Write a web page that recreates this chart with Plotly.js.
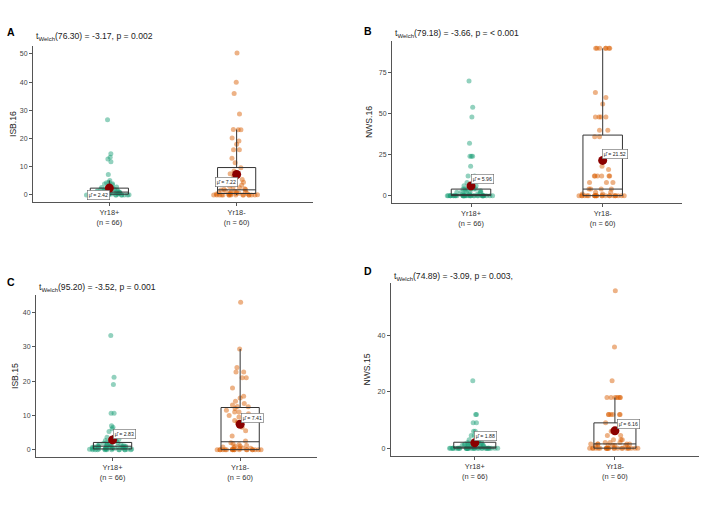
<!DOCTYPE html>
<html><head><meta charset="utf-8">
<script src="https://cdn.plot.ly/plotly-3.0.1.min.js"></script>
<style>html,body{margin:0;padding:0;background:#fff}#chart{width:708px;height:505px}</style>
</head><body><div id="chart"></div>
<script>
// ---------- data ----------
const groups = ['Yr18+', 'Yr18-'];
const groupN = [66, 60];

const isb16Plus = [26.7,14.6,13.4,12.7,11.8,7.2,5.1,4.3,3.9,4.5,4.0,3.6,2.8,2.6,2.4,2.3,2.1,2.0,2.0,1.8,1.7,1.6,1.5,1.4,1.3,1.2,1.1,1.0,1.0,1.0,0.9,0.9,0.8,0.8,0.7,0.7,0.6,0.6,0.5,0.5,0.5,0.4,0.4,0.3,0.3,0.3,0.2,0.2,0.2,0.1,0.1,0.1,0,0,0,0,0,0,0,0,0,0,0,0,0,0];
const isb16Minus = [50.3,40,36,28.7,23.2,23.1,23.1,20.2,19.1,18,16,16,13,11.4,9.6,8.5,7.5,6.5,6,5.5,5,4.5,4,3.5,3,2.8,2.5,2.2,2,1.9,1.7,1.5,1.3,1.2,1,1,0.8,0.7,0.6,0.5,0.5,0.4,0.3,0.2,0.1,0,0,0,0,0,0,0,0,0,0,0,0,0,0,0];
const nws16Plus = [70,54,48,32,24,24,24,18,12,12,8,6,6,6,4,4,4,4,4,4,3,3,2,2,2,2,2,2,1,1,1,0,0,0,0,0,0,0,0,0,0,0,0,0,0,0,0,0,0,0,0,0,0,0,0,0,0,0,0,0,0,0,0,0,0,0];
const nws16Minus = [90,90,90,90,90,90,90,63,60,56,48,48,48,48,40,40,36,36,18,16,12,12,12,12,12,12,8,8,8,4,4,4,4,2,2,1,1,0,0,0,0,0,0,0,0,0,0,0,0,0,0,0,0,0,0,0,0,0,0,0];
const isb15Plus = [33.3,21.1,19,10.6,10.6,7,6.5,6.1,5.3,4.2,3.6,3.2,3,2.7,2.5,2.3,2.1,2,1.9,1.8,1.6,1.5,1.4,1.3,1.2,1.1,1.1,1,1,1,1,0.9,0.9,0.8,0.8,0.8,0.7,0.7,0.6,0.6,0.5,0.5,0.5,0.4,0.4,0.4,0.3,0.3,0.3,0.2,0.2,0.2,0.1,0.1,0.1,0,0,0,0,0,0,0,0,0,0,0];
const isb15Minus = [43,29.4,24,22.7,22.7,21,21,18,15.6,15.1,14.1,13.5,13,12.6,12.5,12,11.5,11,11,10.5,10,10,9.5,9,8.5,8,6.5,5.5,4,2.5,2,1.8,1.5,1.2,1,1,0.8,0.6,0.5,0.4,0.3,0.2,0,0,0,0,0,0,0,0,0,0,0,0,0,0,0,0,0,0];
const nws15Plus = [24,12,12,9,9,6,6,4.5,4.5,3,3,2,2,2,2,2,1.5,1.5,1.5,1,1,1,1,1,1,1,1,0.5,0.5,0.5,0,0,0,0,0,0,0,0,0,0,0,0,0,0,0,0,0,0,0,0,0,0,0,0,0,0,0,0,0,0,0,0,0,0,0,0];
const nws15Minus = [56,36,24,18,18,18,18,18,18,18,12,12,12,12,12,12,9,6,6,4.5,4.5,3,3,3,2,2,2,1.5,1.5,1.5,1.5,1.5,1,1,1,1,1,0,0,0,0,0,0,0,0,0,0,0,0,0,0,0,0,0,0,0,0,0,0,0];

// means as printed on the chart
const isb16Means = [2.42, 7.22];
const nws16Means = [5.96, 21.52];
const isb15Means = [2.83, 7.41];
const nws15Means = [1.88, 6.16];

// box statistics [Yr18+, Yr18-]
const isb16Q1 = [0.25, 0.5], isb16Med = [1.0, 1.8], isb16Q3 = [2.4, 9.7], isb16Lo = [0, 0], isb16Hi = [5.1, 23.2];
const nws16Q1 = [0, 0], nws16Med = [0, 4], nws16Q3 = [4, 37], nws16Lo = [0, 0], nws16Hi = [8, 90];
const isb15Q1 = [0.2, 0], isb15Med = [1.0, 2.3], isb15Q3 = [2.1, 12.3], isb15Lo = [0, 0], isb15Hi = [4.2, 29.4];
const nws15Q1 = [0, 0], nws15Med = [0.2, 1.5], nws15Q3 = [2.1, 9], nws15Lo = [0, 0], nws15Hi = [4.5, 18];

const panelLetters = ['A', 'B', 'C', 'D'];
const yTitles = ['ISB.16', 'NWS.16', 'ISB.15', 'NWS.15'];
const subtitles = [
  't<sub>Welch</sub>(76.30) = -3.17, p = 0.002',
  't<sub>Welch</sub>(79.18) = -3.66, p = < 0.001',
  't<sub>Welch</sub>(95.20) = -3.52, p = 0.001',
  't<sub>Welch</sub>(74.89) = -3.09, p = 0.003,'
];
const yDticks = [10, 25, 10, 20];

// ---------- build ----------
const panels = [
  {plus: isb16Plus, minus: isb16Minus, means: isb16Means, q1: isb16Q1, med: isb16Med, q3: isb16Q3, lo: isb16Lo, hi: isb16Hi},
  {plus: nws16Plus, minus: nws16Minus, means: nws16Means, q1: nws16Q1, med: nws16Med, q3: nws16Q3, lo: nws16Lo, hi: nws16Hi},
  {plus: isb15Plus, minus: isb15Minus, means: isb15Means, q1: isb15Q1, med: isb15Med, q3: isb15Q3, lo: isb15Lo, hi: isb15Hi},
  {plus: nws15Plus, minus: nws15Minus, means: nws15Means, q1: nws15Q1, med: nws15Med, q3: nws15Q3, lo: nws15Lo, hi: nws15Hi}
];

const W = 708, H = 505;
const geom = [
  {x0: 33, x1: 313, y0: 46, y1: 202, lx: 11, ly: 32, sy: 37, tx: 13, mlab: [[0.913, 0.0], [1.917, 4.75]]},
  {x0: 392, x1: 681.7, y0: 41, y1: 203, lx: 368, ly: 31, sy: 33, tx: 369, mlab: [[1.09, 10.0], [2.09, 25.5]]},
  {x0: 36, x1: 316.7, y0: 295, y1: 457, lx: 11, ly: 282, sy: 287, tx: 15, mlab: [[1.09, 4.65], [2.10, 9.3]]},
  {x0: 390.7, x1: 699, y0: 283, y1: 456, lx: 368, ly: 271, sy: 276, tx: 366, mlab: [[1.076, 4.4], [2.10, 8.7]]}
];

const FONT = 'Liberation Sans, Arial, Helvetica, sans-serif';
const tickText = groups.map((g, i) => g + '<br>(n = ' + groupN[i] + ')');
const ptColors = ['rgba(27,158,119,0.48)', 'rgba(217,95,2,0.48)'];

const traces = [];
const layout = {
  width: W, height: H,
  margin: {l: 0, r: 0, t: 0, b: 0, pad: 0},
  paper_bgcolor: '#fff', plot_bgcolor: 'rgba(0,0,0,0)',
  showlegend: false, boxmode: 'overlay',
  font: {family: FONT, color: '#222'},
  annotations: []
};

panels.forEach((p, i) => {
  const s = i === 0 ? '' : String(i + 1);
  const xa = 'x' + s, ya = 'y' + s;
  const g = geom[i];
  [p.plus, p.minus].forEach((vals, k) => {
    traces.push({
      type: 'box', y: vals, x0: k + 1, xaxis: xa, yaxis: ya,
      boxpoints: 'all', jitter: 1, pointpos: 0, width: 0.37,
      line: {width: 0, color: 'rgba(0,0,0,0)'}, fillcolor: 'rgba(0,0,0,0)',
      marker: {color: ptColors[k], size: 5, line: {width: 0}},
      hoverinfo: 'y'
    });
  });
  traces.push({
    type: 'box', x: [1, 2], q1: p.q1, median: p.med, q3: p.q3,
    lowerfence: p.lo, upperfence: p.hi, xaxis: xa, yaxis: ya,
    width: 0.3, whiskerwidth: 0, boxpoints: false,
    fillcolor: 'rgba(0,0,0,0)', line: {color: '#333', width: 1}
  });
  traces.push({
    type: 'scatter', mode: 'markers', x: [1, 2], y: p.means, xaxis: xa, yaxis: ya,
    marker: {color: '#8b0000', size: 9}
  });

  const all = p.plus.concat(p.minus);
  const mn = Math.min(...all), mx = Math.max(...all), span = mx - mn;

  layout['xaxis' + s] = {
    domain: [g.x0 / W, g.x1 / W], anchor: ya, range: [0.4, 2.6],
    tickmode: 'array', tickvals: [1, 2], ticktext: tickText,
    showline: true, linecolor: '#555', linewidth: 1,
    ticks: 'outside', ticklen: 3, tickcolor: '#555', tickwidth: 1,
    tickfont: {size: 7.4, color: '#333', family: FONT},
    showgrid: false, zeroline: false, fixedrange: true
  };
  layout['yaxis' + s] = {
    domain: [1 - g.y1 / H, 1 - g.y0 / H], anchor: xa,
    range: [mn - 0.05 * span, mx + 0.05 * span], dtick: yDticks[i], tick0: 0,
    showline: true, linecolor: '#555', linewidth: 1,
    ticks: 'outside', ticklen: 3, tickcolor: '#555', tickwidth: 1,
    tickfont: {size: 7, color: '#444', family: FONT},
    showgrid: false, zeroline: false, fixedrange: true
  };

  layout.annotations.push({
    xref: 'paper', yref: 'paper', x: g.lx / W, y: 1 - g.ly / H,
    xanchor: 'center', yanchor: 'middle', showarrow: false,
    text: '<b>' + panelLetters[i] + '</b>', font: {size: 10.5, color: '#000', family: FONT}
  });
  layout.annotations.push({
    xref: 'paper', yref: 'paper', x: (g.x0 + 1) / W, y: 1 - g.sy / H,
    xanchor: 'left', yanchor: 'middle', showarrow: false,
    text: subtitles[i], font: {size: 8.6, color: '#222', family: FONT}
  });
  layout.annotations.push({
    xref: 'paper', yref: 'paper', x: g.tx / W, y: 1 - (g.y0 + g.y1) / 2 / H,
    xanchor: 'center', yanchor: 'middle', showarrow: false, textangle: -90,
    text: yTitles[i], font: {size: 8.6, color: '#222', family: FONT}
  });
  p.means.forEach((m, k) => {
    layout.annotations.push({
      xref: xa, yref: ya, x: g.mlab[k][0], y: g.mlab[k][1],
      xanchor: 'center', yanchor: 'middle', showarrow: false,
      text: 'μ̂ = ' + m.toFixed(2),
      bgcolor: '#fff', bordercolor: '#666', borderwidth: 0.6, borderpad: 1.2,
      font: {size: 5.2, color: '#222', family: FONT}
    });
  });
});

Plotly.newPlot('chart', traces, layout, {displayModeBar: false, staticPlot: true});
</script>
</body></html>
